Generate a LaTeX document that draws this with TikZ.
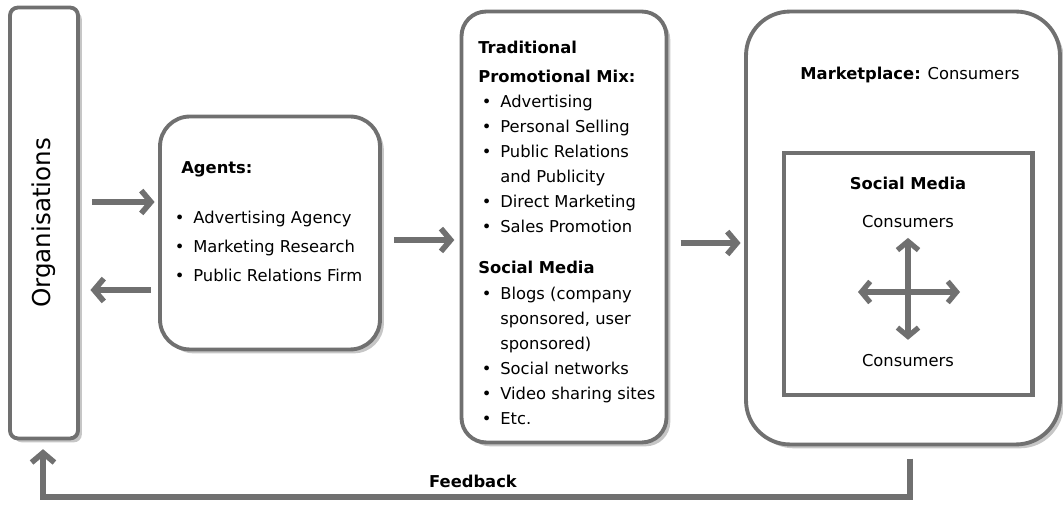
\documentclass[tikz,border=0pt]{standalone}
\usepackage{fontspec}
\setmainfont{DejaVu Sans}
\usetikzlibrary{positioning, arrows.meta, shadows}
\definecolor{boxgray}{HTML}{707070}
\newcommand{\diagfont}{\fontsize{9.3}{11.5}\selectfont}

\begin{document}
\begin{tikzpicture}[x=0.02cm, y=-0.02cm, font=\diagfont,
  box/.style={draw=boxgray, line width=2.2pt, fill=white, rounded corners=#1,
    drop shadow={shadow xshift=2.2pt, shadow yshift=-2.2pt, opacity=0.45}},
  head/.style={anchor=base west, inner sep=0pt, font=\diagfont\bfseries},
  item/.style={anchor=base west, inner sep=0pt, execute at begin node={\llap{\textbullet\hspace{5pt}}}},
  cont/.style={anchor=base west, inner sep=0pt},
  flow/.style={draw=boxgray, line width=3.2pt, -{Straight Barb[length=5.5pt, width=13pt]}}]

\useasboundingbox (0,0) rectangle (1063,506);

% boxes
\node[box=4.5pt, minimum width=1.36cm, minimum height=8.62cm] (org) at (44,223) {};
\node[box=17pt, minimum width=4.4cm, minimum height=4.66cm] (agents) at (270,233) {};
\node[box=14pt, minimum width=4.1cm, minimum height=8.62cm] (promo) at (564,227) {};
\node[box=25pt, minimum width=6.28cm, minimum height=8.66cm] (market) at (903,228) {};
\node[draw=boxgray, line width=2.3pt, minimum width=4.98cm, minimum height=4.84cm] (social) at (908,274) {};

\node[rotate=90, font=\fontsize{14}{16}\selectfont] (orgtext) at (org.center) {Organisations};

% agents
\node[head] (agentshead) at (181,174) {Agents:};
\node[item] (ag1) at (193,224) {Advertising Agency};
\node[item] (ag2) at (193,253) {Marketing Research};
\node[item] (ag3) at (193,282) {Public Relations Firm};

% promotional mix
\node[head] (mixhead1) at (478,54) {Traditional};
\node[head] (mixhead2) at (478,83) {Promotional Mix:};
\node[item] (mix1) at (500,108) {Advertising};
\node[item] (mix2) at (500,133) {Personal Selling};
\node[item] (mix3) at (500,158) {Public Relations};
\node[cont] (mix3b) at (500,183) {and Publicity};
\node[item] (mix4) at (500,208) {Direct Marketing};
\node[item] (mix5) at (500,233) {Sales Promotion};

\node[head] (smhead) at (478,274) {Social Media};
\node[item] (sm1) at (500,300) {Blogs (company};
\node[cont] (sm1b) at (500,325) {sponsored, user};
\node[cont] (sm1c) at (500,350) {sponsored)};
\node[item] (sm2) at (500,375) {Social networks};
\node[item] (sm3) at (500,400) {Video sharing sites};
\node[item] (sm4) at (500,425) {Etc.};

% marketplace
\node (markethead) at (910,75) {\textbf{Marketplace:} Consumers};
\node[font=\diagfont\bfseries] (sochead) at (908,183) {Social Media};
\node (consup) at (908,222) {Consumers};
\node (consdown) at (908,361) {Consumers};
\coordinate (crossw) at (858,292);
\coordinate (crosse) at (960,292);

\draw[flow, line width=3pt, {Straight Barb[length=5pt, width=12pt]}-{Straight Barb[length=5pt, width=12pt]}, shorten <=2pt, shorten >=5pt] (consup.south) -- (consdown.north);
\draw[flow, line width=3pt, {Straight Barb[length=5pt, width=12pt]}-{Straight Barb[length=5pt, width=12pt]}] (crossw) -- (crosse);

% connectors
\draw[flow, shorten <=7pt, shorten >=2pt] (org.east |- 0,202) -- (agents.west |- 0,202);
\draw[flow, shorten <=4pt, shorten >=6pt] (agents.west |- 0,290) -- (org.east |- 0,290);
\draw[flow, shorten <=7pt, shorten >=3pt] (agents.east |- 0,240) -- (promo.west |- 0,240);
\draw[flow, shorten <=7pt, shorten >=2pt] (promo.east |- 0,243) -- (market.west |- 0,243);

\coordinate (fbturn) at (43,497);
\draw[flow, shorten <=7pt, shorten >=5pt] (market.south -| 910,0) |- (fbturn) -- (org.south -| 43,0);
\node[font=\diagfont\bfseries] (fblabel) at (473,481) {Feedback};
\end{tikzpicture}
\end{document}
